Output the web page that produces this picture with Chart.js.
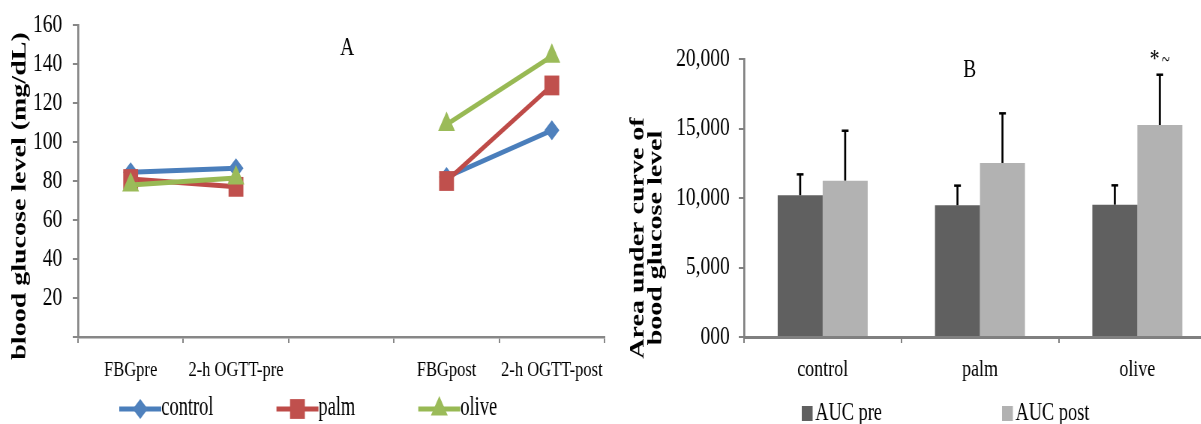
<!DOCTYPE html>
<html>
<head>
<meta charset="utf-8">
<script src="https://cdn.jsdelivr.net/npm/chart.js@4/dist/chart.umd.min.js"></script>
<style>
  html, body { margin: 0; padding: 0; background: #fff; overflow: hidden; width: 1201px; height: 424px; }
  .panel { position: absolute; top: 0; height: 424px; transform: scaleX(0.75); transform-origin: 0 0; }
</style>
</head>
<body>
<div class="panel" style="left:0;width:820px;"><canvas id="chartA" width="820" height="424"></canvas></div>
<div class="panel" style="left:612px;width:827px;"><canvas id="chartB" width="827" height="424"></canvas></div>
<script>
// panel A: blood glucose (mg/dL)
const timePoints = ["FBGpre", "2-h OGTT-pre", "", "FBGpost", "2-h OGTT-post"];
const controlGlucose = [84.5, 86.5, null, 82, 106];
const palmGlucose = [81, 77, null, 80, 129];
const oliveGlucose = [78, 81.5, null, 109, 144];

// panel B: area under curve
const groups = ["control", "palm", "olive"];
const aucPre = [10200, 9480, 9520];
const aucPost = [11250, 12520, 15250];
const aucPreErr = [1500, 1410, 1390];
const aucPostErr = [3590, 3570, 3620];

const serif = '"Liberation Serif", "Times New Roman", serif';
const axisGray = "#878787";
Chart.defaults.font.family = serif;
Chart.defaults.color = "#000";

function marker(ctx, style, r, x, y) {
  if (Chart.helpers && Chart.helpers.drawPoint) {
    Chart.helpers.drawPoint(ctx, { pointStyle: style, radius: r, rotation: 0, borderWidth: 0 }, x, y);
  } else {
    ctx.beginPath(); ctx.arc(x, y, r * 0.7, 0, Math.PI * 2); ctx.fill();
  }
}

// narrow text: draws label squeezed a bit more than the panel itself
function narrowText(ctx, text, x, y, sx) {
  ctx.save();
  ctx.translate(x, y);
  ctx.scale(sx, 1);
  ctx.fillText(text, 0, 0);
  ctx.restore();
  return ctx.measureText(text).width * sx;
}

// ---------- chart A ----------
const panelA = {
  id: "panelA",
  afterDraw(chart) {
    const ctx = chart.ctx;
    ctx.save();
    ctx.fillStyle = "#000";
    ctx.textAlign = "center";
    ctx.textBaseline = "middle";
    ctx.font = "26px " + serif;
    ctx.fillText("A", 463, 48);

    ctx.save();
    ctx.translate(27, 196);
    ctx.rotate(-Math.PI / 2);
    ctx.font = "bold 28px " + serif;
    ctx.fillText("blood glucose level (mg/dL)", 0, 0);
    ctx.restore();

    // legend: line + marker + label
    ctx.font = "27px " + serif;
    ctx.textAlign = "left";
    ctx.textBaseline = "alphabetic";
    let x = 159;
    const y = 409;
    chart.data.datasets.forEach(ds => {
      ctx.strokeStyle = ds.borderColor;
      ctx.lineWidth = 5;
      ctx.beginPath();
      ctx.moveTo(x, y);
      ctx.lineTo(x + 56, y);
      ctx.stroke();
      ctx.fillStyle = ds.pointBackgroundColor;
      marker(ctx, ds.pointStyle, ds.pointRadius, x + 28, y);
      ctx.fillStyle = "#000";
      const w = narrowText(ctx, ds.label, x + 56, 415, 0.91);
      x += 56 + w + 84;
    });
    ctx.restore();
  }
};

new Chart(document.getElementById("chartA"), {
  type: "line",
  data: {
    labels: timePoints,
    datasets: [
      { label: "control", data: controlGlucose, borderColor: "#4A7EBB", pointBackgroundColor: "#4F81BD",
        pointStyle: "rectRot", pointRadius: 10, order: 3 },
      { label: "palm", data: palmGlucose, borderColor: "#BE4B48", pointBackgroundColor: "#C0504D",
        pointStyle: "rect", pointRadius: 14, order: 2 },
      { label: "olive", data: oliveGlucose, borderColor: "#98B954", pointBackgroundColor: "#9BBB59",
        pointStyle: "triangle", pointRadius: 13, order: 1 },
    ],
  },
  options: {
    responsive: false,
    devicePixelRatio: 1,
    animation: false,
    events: [],
    spanGaps: false,
    elements: {
      line: { borderWidth: 5, tension: 0 },
      point: { borderWidth: 0, hoverRadius: 0 },
    },
    layout: { padding: { top: 25, right: 8, left: 0, bottom: 0 } },
    plugins: { legend: { display: false }, tooltip: { enabled: false } },
    scales: {
      x: {
        offset: true,
        grid: { offset: true, drawOnChartArea: false, tickLength: 6, color: axisGray, lineWidth: 2 },
        border: { color: axisGray, width: 2.5 },
        ticks: { font: { size: 22 }, padding: 14, maxRotation: 0, autoSkip: false },
        afterFit(axis) { axis.height = 87; axis.paddingLeft = 0; axis.paddingRight = 0; },
      },
      y: {
        min: 0,
        max: 160,
        ticks: { stepSize: 20, font: { size: 26 }, padding: 14, callback: v => (v === 0 ? "" : v) },
        grid: { drawOnChartArea: false, tickLength: 7, color: axisGray, lineWidth: 2 },
        border: { color: axisGray, width: 2.7 },
        afterFit(axis) { axis.width = 104; axis.paddingTop = 0; axis.paddingBottom = 0; },
      },
    },
  },
  plugins: [panelA],
});

// ---------- chart B ----------
const panelB = {
  id: "panelB",
  afterDatasetsDraw(chart) {
    const ctx = chart.ctx;
    const yScale = chart.scales.y;
    ctx.save();
    ctx.strokeStyle = "#000";
    chart.data.datasets.forEach((ds, i) => {
      chart.getDatasetMeta(i).data.forEach((bar, j) => {
        const top = yScale.getPixelForValue(ds.data[j] + ds.errors[j]);
        ctx.lineWidth = 2.7;
        ctx.beginPath();
        ctx.moveTo(bar.x, bar.y);
        ctx.lineTo(bar.x, top);
        ctx.stroke();
        ctx.lineWidth = 2.5;
        ctx.beginPath();
        ctx.moveTo(bar.x - 4.5, top);
        ctx.lineTo(bar.x + 4.5, top);
        ctx.stroke();
      });
    });
    ctx.restore();
  },
  afterDraw(chart) {
    const ctx = chart.ctx;
    ctx.save();
    ctx.fillStyle = "#000";
    ctx.textAlign = "center";
    ctx.textBaseline = "middle";
    ctx.font = "26px " + serif;
    ctx.fillText("B", 477, 70);

    // significance mark over olive post bar
    const olivePost = chart.getDatasetMeta(1).data[2];
    ctx.textBaseline = "alphabetic";
    ctx.font = "26px " + serif;
    ctx.fillText("*", olivePost.x - 7, 67);
    ctx.font = "20px " + serif;
    ctx.fillText("~", olivePost.x + 8, 66);

    ctx.save();
    ctx.textBaseline = "middle";
    ctx.font = "bold 28px " + serif;
    ctx.translate(35, 238);
    ctx.rotate(-Math.PI / 2);
    ctx.fillText("Area under curve of", 0, 0);
    ctx.fillText("bood glucose level", 0, 24);
    ctx.restore();

    // legend: square + label
    ctx.font = "26px " + serif;
    ctx.textAlign = "left";
    ctx.textBaseline = "alphabetic";
    const starts = [253, 520];
    chart.data.datasets.forEach((ds, i) => {
      ctx.fillStyle = ds.backgroundColor;
      ctx.fillRect(starts[i], 406, 14.5, 15);
      ctx.fillStyle = "#000";
      narrowText(ctx, ds.label, starts[i] + 18, 420, 0.94);
    });
    ctx.restore();
  },
};

new Chart(document.getElementById("chartB"), {
  type: "bar",
  data: {
    labels: groups,
    datasets: [
      { label: "AUC pre", data: aucPre, errors: aucPreErr, backgroundColor: "#606060" },
      { label: "AUC post", data: aucPost, errors: aucPostErr, backgroundColor: "#B2B2B2" },
    ],
  },
  options: {
    responsive: false,
    devicePixelRatio: 1,
    animation: false,
    events: [],
    categoryPercentage: 0.572,
    barPercentage: 1,
    layout: { padding: { top: 59, right: 21.7, left: 0, bottom: 0 } },
    plugins: { legend: { display: false }, tooltip: { enabled: false } },
    scales: {
      x: {
        offset: true,
        grid: { offset: true, drawOnChartArea: false, tickLength: 6, color: "#808080", lineWidth: 2 },
        border: { color: "#808080", width: 3 },
        ticks: { font: { size: 24 }, padding: 12, maxRotation: 0 },
        afterFit(axis) { axis.height = 87; axis.paddingLeft = 0; axis.paddingRight = 0; },
      },
      y: {
        min: 0,
        max: 20000,
        ticks: {
          stepSize: 5000,
          font: { size: 26 },
          padding: 12,
          callback: v => (v === 0 ? "000" : v.toLocaleString("en-US")),
        },
        grid: { drawOnChartArea: false, tickLength: 7, color: "#808080", lineWidth: 2 },
        border: { color: "#808080", width: 2.7 },
        afterFit(axis) { axis.width = 176; axis.paddingTop = 0; axis.paddingBottom = 0; },
      },
    },
  },
  plugins: [panelB],
});
</script>
</body>
</html>
